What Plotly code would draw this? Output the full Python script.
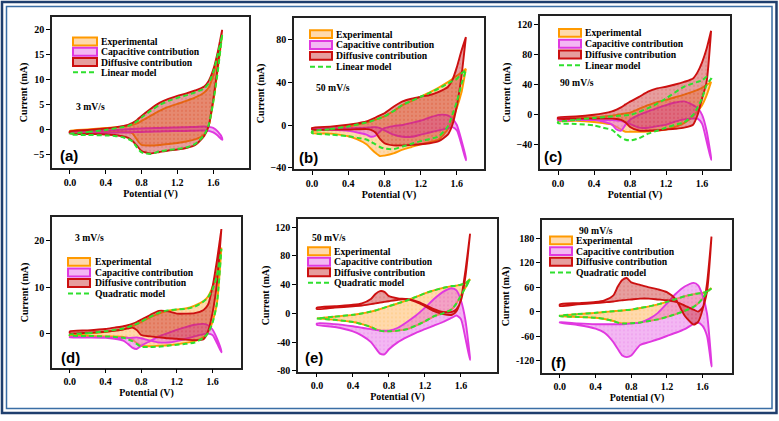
import plotly.graph_objects as go

W, H = 779, 421

# Potential grid (V) shared by every branch
E = [0.0, 0.2, 0.4, 0.5, 0.6, 0.65, 0.7, 0.75, 0.8, 0.9, 1.0, 1.1, 1.2, 1.3, 1.4, 1.5, 1.55, 1.6, 1.65, 1.7]

# ---------- (a) 3 mV/s, linear model ----------
a_exp_fwd = [-0.2, 0.1, 0.4, 0.5, 0.7, 0.8, 1.0, 1.3, 1.8, 2.8, 3.8, 4.6, 5.2, 5.8, 6.5, 7.5, 8.5, 10.8, 14.5, 19.0]
a_exp_rev = [-0.5, -0.4, -0.3, -0.3, -0.3, -0.4, -0.7, -2.0, -3.0, -3.1, -3.0, -2.8, -2.6, -2.3, -1.9, -0.9, 0.8, 5.5, 12.0, 19.0]
a_cap_fwd = [-0.4, -0.3, -0.1, 0.0, 0.1, 0.15, 0.2, 0.25, 0.3, 0.35, 0.4, 0.45, 0.5, 0.55, 0.6, 0.7, 0.6, 0.4, -0.3, -1.6]
a_cap_rev = [-0.7, -0.65, -0.6, -0.55, -0.5, -0.5, -0.45, -0.4, -0.4, -0.35, -0.3, -0.25, -0.2, -0.2, -0.15, -0.1, -0.2, -0.5, -1.1, -2.0]
a_dif_fwd = [-0.3, 0.0, 0.3, 0.5, 0.8, 1.0, 1.4, 2.0, 2.8, 4.2, 5.4, 6.2, 6.8, 7.3, 7.9, 8.7, 9.8, 12.0, 15.5, 20.0]
a_dif_rev = [-0.7, -0.8, -0.9, -1.0, -1.3, -1.6, -2.2, -3.2, -4.2, -4.7, -4.4, -4.1, -3.9, -3.6, -3.0, -1.2, 0.8, 6.0, 12.5, 20.0]
a_mod_fwd = [-0.8, -0.4, 0.0, 0.3, 0.6, 0.8, 1.2, 1.7, 2.5, 3.8, 5.0, 5.8, 6.4, 6.9, 7.5, 8.3, 9.3, 11.5, 15.0, 19.0]
a_mod_rev = [-0.9, -1.0, -1.1, -1.2, -1.5, -1.8, -2.3, -3.5, -4.5, -4.8, -4.3, -4.0, -3.8, -3.5, -2.8, -1.0, 1.0, 5.5, 11.5, 19.0]

# ---------- (b) 50 mV/s, linear model ----------
b_exp_fwd = [-6.0, -3.8, -1.3, 0.5, 2.4, 3.5, 5.0, 6.5, 8.0, 13.0, 18.5, 22.5, 26.5, 30.5, 35.0, 40.0, 43.0, 46.0, 49.0, 52.5]
b_exp_rev = [-7.5, -8.0, -10.5, -13.5, -18.0, -22.0, -26.0, -29.0, -28.5, -26.5, -23.0, -20.5, -18.0, -16.0, -13.5, -4.0, 5.0, 16.0, 30.0, 52.5]
b_cap_fwd = [-4.0, -4.5, -5.5, -7.0, -9.0, -11.0, -10.0, -6.0, -3.0, -1.0, 0.0, 2.0, 4.0, 7.0, 9.5, 9.0, 6.0, 0.0, -14.0, -31.0]
b_cap_rev = [-3.0, -3.0, -3.0, -2.8, -2.5, -2.2, -2.0, -3.0, -5.0, -9.0, -11.0, -11.0, -9.0, -7.0, -5.0, -3.0, -2.0, -5.0, -18.0, -33.0]
b_dif_fwd = [-2.8, -1.5, 0.3, 1.5, 3.3, 5.0, 7.0, 9.0, 11.0, 17.0, 22.0, 24.5, 26.4, 28.0, 31.0, 35.5, 42.0, 54.0, 69.0, 82.0]
b_dif_rev = [-4.3, -4.3, -4.3, -4.0, -3.8, -4.5, -7.0, -13.0, -17.0, -19.0, -19.0, -18.5, -18.0, -17.0, -15.0, -9.0, 0.0, 18.0, 45.0, 82.0]
b_mod_fwd = [-6.0, -3.8, -1.3, 0.5, 2.4, 3.5, 5.0, 6.5, 8.0, 13.0, 18.8, 22.5, 26.4, 30.0, 34.0, 38.7, 41.0, 43.0, 48.0, 51.0]
b_mod_rev = [-7.5, -9.0, -10.5, -12.0, -13.5, -15.5, -18.0, -20.5, -22.0, -22.5, -20.0, -17.5, -15.0, -13.0, -10.5, -1.3, 9.5, 21.8, 38.0, 51.0]

# ---------- (c) 90 mV/s, linear model ----------
c_exp_fwd = [-5.0, -4.0, -3.0, -2.0, -1.0, 0.0, 1.0, 2.0, 3.0, 8.0, 13.0, 17.0, 20.0, 23.5, 27.0, 31.0, 33.5, 36.0, 40.0, 44.0]
c_exp_rev = [-8.0, -8.0, -9.5, -11.0, -13.0, -16.0, -19.5, -22.5, -22.5, -22.5, -22.0, -21.0, -19.5, -16.0, -11.0, -2.0, 5.0, 13.0, 26.0, 44.0]
c_cap_fwd = [-4.0, -5.0, -6.5, -9.0, -13.0, -19.5, -21.0, -13.0, -6.5, 0.0, 4.6, 9.0, 13.0, 16.5, 18.0, 13.0, 9.0, 0.0, -21.0, -57.0]
c_cap_rev = [-7.0, -7.0, -7.0, -7.0, -7.0, -7.5, -8.0, -10.0, -12.0, -17.0, -17.0, -15.0, -13.0, -9.0, -6.0, -5.0, -5.0, -12.0, -35.0, -60.0]
c_dif_fwd = [-3.3, -2.0, 0.3, 2.0, 4.6, 7.0, 10.0, 14.0, 17.8, 24.0, 31.0, 35.3, 37.5, 40.5, 44.0, 48.5, 57.0, 70.0, 88.0, 112.0]
c_dif_rev = [-5.0, -5.0, -5.0, -5.0, -5.0, -5.5, -6.5, -10.0, -16.0, -21.0, -21.0, -20.5, -19.5, -18.5, -17.0, -13.0, 0.0, 22.0, 44.0, 112.0]
c_mod_fwd = [-9.5, -6.5, -4.0, -3.0, -2.0, -1.5, -1.0, -0.5, 0.0, 4.0, 9.0, 15.0, 22.0, 30.0, 37.5, 42.0, 44.0, 46.0, 50.7, 48.0]
c_mod_rev = [-11.0, -12.0, -14.0, -17.0, -20.0, -25.0, -30.0, -33.0, -34.0, -31.0, -25.0, -21.0, -17.0, -13.0, -10.0, 0.0, 10.0, 22.0, 40.0, 48.0]

# ---------- (d) 3 mV/s, quadratic model ----------
d_exp_fwd = [-0.3, 0.0, 0.4, 0.7, 1.0, 1.3, 1.6, 2.0, 2.5, 3.5, 4.3, 4.9, 5.2, 5.4, 6.0, 7.0, 8.0, 10.0, 13.0, 18.5]
d_exp_rev = [-0.5, -0.5, -0.6, -0.6, -0.7, -0.9, -1.3, -2.0, -2.6, -2.7, -2.6, -2.5, -2.3, -2.0, -1.6, -0.8, 0.2, 2.5, 6.5, 18.5]
d_cap_fwd = [-0.7, -0.8, -0.9, -1.1, -1.5, -2.2, -3.0, -3.3, -2.6, -1.6, -0.6, 0.1, 0.8, 1.4, 1.9, 2.1, 1.8, 0.9, -1.0, -3.8]
d_cap_rev = [-0.8, -0.8, -0.8, -0.9, -0.9, -0.9, -0.9, -0.8, -1.0, -1.5, -1.9, -1.9, -1.6, -1.1, -0.6, -0.1, 0.0, -0.3, -2.0, -4.0]
d_dif_fwd = [0.5, 0.7, 1.0, 1.3, 1.6, 1.8, 2.1, 2.5, 3.0, 4.0, 4.9, 4.8, 4.3, 4.3, 4.4, 5.1, 6.2, 10.0, 15.7, 22.5]
d_dif_rev = [0.1, 0.2, 0.4, 0.6, 0.9, 1.1, 1.3, 0.8, -0.3, -0.6, -0.8, -1.0, -1.1, -1.3, -1.4, -1.2, 0.5, 4.4, 10.8, 22.5]
d_mod_fwd = [-0.2, 0.1, 0.5, 0.8, 1.1, 1.4, 1.7, 2.1, 2.6, 3.6, 4.5, 5.0, 5.2, 5.3, 5.8, 6.9, 7.8, 9.5, 12.5, 18.2]
d_mod_rev = [-0.4, -0.5, -0.6, -0.7, -0.9, -1.2, -1.6, -2.2, -2.8, -2.9, -2.8, -2.6, -2.4, -2.2, -1.9, -0.9, 0.1, 2.3, 6.5, 18.2]

# ---------- (e) 50 mV/s, quadratic model ----------
e_exp_fwd = [-7.0, -4.5, -2.0, 0.0, 2.5, 4.0, 6.0, 8.0, 10.0, 14.0, 18.0, 23.0, 28.0, 32.0, 35.5, 38.0, 38.6, 40.0, 42.0, 48.0]
e_exp_rev = [-7.0, -9.0, -12.0, -15.0, -19.0, -22.0, -24.0, -25.0, -25.0, -24.0, -22.0, -17.0, -11.0, -4.0, 0.0, 6.0, 14.0, 25.0, 36.0, 48.0]
e_cap_fwd = [-14.0, -15.0, -18.0, -20.0, -22.0, -23.0, -24.0, -24.0, -24.0, -20.0, -12.0, -3.0, 8.0, 20.0, 30.0, 35.0, 32.0, 18.0, -10.0, -62.0]
e_cap_rev = [-16.0, -19.0, -25.0, -31.0, -40.0, -48.0, -56.0, -57.0, -50.0, -40.0, -33.0, -27.0, -22.0, -17.0, -12.0, -6.0, -3.0, -8.0, -35.0, -65.0]
e_dif_fwd = [8.0, 10.0, 12.0, 14.0, 20.0, 27.0, 31.0, 30.0, 24.0, 21.0, 20.0, 16.0, 10.0, 3.0, -1.0, -2.0, 3.0, 20.0, 60.0, 110.0]
e_dif_rev = [6.0, 8.0, 10.0, 11.0, 13.0, 14.0, 15.0, 16.0, 17.0, 19.0, 20.0, 17.0, 12.0, 6.0, 2.0, 2.0, 6.0, 18.0, 52.0, 110.0]
e_mod_fwd = [-7.0, -4.5, -2.0, 0.0, 2.5, 4.0, 6.0, 8.0, 10.0, 14.0, 18.0, 23.0, 28.0, 32.0, 35.5, 38.0, 38.6, 40.0, 42.0, 47.0]
e_mod_rev = [-7.0, -9.0, -12.0, -15.0, -19.0, -22.0, -24.0, -25.0, -25.0, -24.0, -22.0, -17.0, -11.0, -4.0, 0.0, 6.0, 14.0, 25.0, 36.0, 47.0]

# ---------- (f) 90 mV/s, quadratic model ----------
f_exp_fwd = [-10.0, -6.0, -3.0, -1.0, 1.0, 2.0, 3.0, 4.0, 5.0, 9.0, 13.0, 18.0, 24.0, 31.0, 38.0, 43.0, 45.0, 46.0, 50.0, 58.0]
f_exp_rev = [-11.0, -13.0, -15.0, -18.0, -23.0, -27.0, -29.0, -29.0, -28.5, -27.0, -23.0, -19.0, -13.0, -6.0, 2.0, 12.0, 20.0, 32.0, 48.0, 58.0]
f_cap_fwd = [-26.0, -29.0, -31.0, -31.0, -31.0, -31.0, -31.0, -30.0, -29.0, -27.0, -18.0, -3.0, 20.0, 44.0, 62.0, 71.0, 65.0, 40.0, -5.0, -130.0]
f_cap_rev = [-27.0, -33.0, -42.0, -52.0, -75.0, -92.0, -108.0, -112.0, -108.0, -82.0, -75.0, -68.0, -60.0, -52.0, -43.0, -30.0, -27.0, -35.0, -60.0, -135.0]
f_dif_fwd = [18.0, 21.0, 24.0, 28.0, 40.0, 62.0, 78.0, 83.0, 72.0, 66.0, 60.0, 55.0, 48.0, 30.0, -10.0, -32.0, -25.0, 5.0, 70.0, 185.0]
f_dif_rev = [14.0, 18.0, 21.0, 23.0, 25.0, 27.0, 28.0, 29.0, 30.0, 32.0, 32.0, 30.0, 28.0, 24.0, 15.0, 5.0, 0.0, 10.0, 50.0, 185.0]
f_mod_fwd = [-10.0, -6.0, -3.0, -1.0, 1.0, 2.0, 3.0, 4.0, 5.0, 9.0, 13.0, 18.0, 24.0, 31.0, 38.0, 43.0, 45.0, 46.0, 50.0, 57.0]
f_mod_rev = [-11.0, -13.0, -15.0, -18.0, -23.0, -27.0, -29.0, -29.0, -28.5, -27.0, -23.0, -19.0, -13.0, -6.0, 2.0, 12.0, 20.0, 32.0, 48.0, 57.0]

# ---------- ticks / labels ----------
x_tickvals = [0.0, 0.4, 0.8, 1.2, 1.6]
x_ticktext = ["0.0", "0.4", "0.8", "1.2", "1.6"]
a_yticks = [-5, 0, 5, 10, 15, 20]
a_yticktext = ["\u22125", "0", "5", "10", "15", "20"]
b_yticks = [-40, 0, 40, 80]
b_yticktext = ["\u221240", "0", "40", "80"]
c_yticks = [-40, 0, 40, 80, 120]
c_yticktext = ["\u221240", "0", "40", "80", "120"]
d_yticks = [0, 10, 20]
d_yticktext = ["0", "10", "20"]
e_yticks = [-80, -40, 0, 40, 80, 120]
e_yticktext = ["-80", "-40", "0", "40", "80", "120"]
f_yticks = [-120, -60, 0, 60, 120, 180]
f_yticktext = ["-120", "-60", "0", "60", "120", "180"]

series_names = ["Experimental", "Capacitive contribution", "Diffusive contribution"]
rates = ["3 mV/s", "50 mV/s", "90 mV/s", "3 mV/s", "50 mV/s", "90 mV/s"]
letters = ["(a)", "(b)", "(c)", "(d)", "(e)", "(f)"]
models = ["Linear model", "Linear model", "Linear model", "Quadratic model", "Quadratic model", "Quadratic model"]

# ---------- styling ----------
SERIF = "Liberation Serif, Times New Roman, serif"
EXP_LINE, EXP_FILL = "#FF9A00", "rgba(255,180,90,0.50)"
CAP_LINE, CAP_FILL = "#E038E0", "rgba(228,95,228,0.45)"
DIF_LINE, DIF_FILL = "#CC1010", "rgba(200,40,40,0.45)"
MOD_LINE = "#2EE02E"

panels = [
    dict(data=[(a_exp_fwd, a_exp_rev), (a_cap_fwd, a_cap_rev), (a_dif_fwd, a_dif_rev), (a_mod_fwd, a_mod_rev)],
         xr=[-0.2, 2.0], yr=[-7.6, 22.6], yt=a_yticks, ytt=a_yticktext, box=(52, 17, 249, 170),
         leg=(73, 97, 99, 42, 10.4), rpos=(74, 108), lpos=(58, 157)),
    dict(data=[(b_exp_fwd, b_exp_rev), (b_cap_fwd, b_cap_rev), (b_dif_fwd, b_dif_rev), (b_mod_fwd, b_mod_rev)],
         xr=[-0.2, 1.9], yr=[-41, 100], yt=b_yticks, ytt=b_yticktext, box=(294, 18, 484, 171),
         leg=(310, 332, 334, 34.5, 11.0), rpos=(314, 89), lpos=(297, 159)),
    dict(data=[(c_exp_fwd, c_exp_rev), (c_cap_fwd, c_cap_rev), (c_dif_fwd, c_dif_rev), (c_mod_fwd, c_mod_rev)],
         xr=[-0.2, 1.91], yr=[-72, 132], yt=c_yticks, ytt=c_yticktext, box=(540, 16, 730, 171),
         leg=(559, 581, 583, 33.3, 10.9), rpos=(558, 83), lpos=(542, 158)),
    dict(data=[(d_exp_fwd, d_exp_rev), (d_cap_fwd, d_cap_rev), (d_dif_fwd, d_dif_rev), (d_mod_fwd, d_mod_rev)],
         xr=[-0.2, 1.92], yr=[-7.3, 25], yt=d_yticks, ytt=d_yticktext, box=(52, 220, 241, 372),
         leg=(68, 90, 92.5, 265, 10.7), rpos=(73, 240), lpos=(59, 362)),
    dict(data=[(e_exp_fwd, e_exp_rev), (e_cap_fwd, e_cap_rev), (e_dif_fwd, e_dif_rev), (e_mod_fwd, e_mod_rev)],
         xr=[-0.21, 2.0], yr=[-81, 131], yt=e_yticks, ytt=e_yticktext, box=(298, 222, 497, 376),
         leg=(308, 330, 332, 254.3, 10.6), rpos=(310, 240), lpos=(303, 362)),
    dict(data=[(f_exp_fwd, f_exp_rev), (f_cap_fwd, f_cap_rev), (f_dif_fwd, f_dif_rev), (f_mod_fwd, f_mod_rev)],
         xr=[-0.2, 1.93], yr=[-150, 225], yt=f_yticks, ytt=f_yticktext, box=(542, 223, 732, 377),
         leg=(550, 572, 574, 243.3, 10.8), rpos=(577, 233), lpos=(549, 367)),
]


def px(x):
    return x / W


def py(y):
    return 1 - y / H


def loop(fwd, rev):
    xs = list(E) + list(E)[::-1] + [E[0]]
    ys = list(fwd) + list(rev)[::-1] + [fwd[0]]
    return xs, ys


fig = go.Figure()
shapes, annotations = [], []
tickfont = dict(family=SERIF, size=10, color="black", weight="bold")
titlefont = dict(family=SERIF, size=10, color="black", weight="bold")
legfont = dict(family=SERIF, size=9.7, color="black", weight="bold")

for i, p in enumerate(panels, start=1):
    xa, ya = f"x{i}", f"y{i}"
    styles = [(EXP_LINE, EXP_FILL), (CAP_LINE, CAP_FILL), (DIF_LINE, DIF_FILL)]
    for k in range(3):
        fwd, rev = p["data"][k]
        xs, ys = loop(fwd, rev)
        lc, fc = styles[k]
        fig.add_trace(go.Scatter(
            x=xs, y=ys, xaxis=xa, yaxis=ya, mode="lines", name=series_names[k],
            line=dict(color=lc, width=1.9, shape="spline", smoothing=0.6),
            fill="toself", fillcolor=fc,
            fillpattern=dict(shape=".", fgcolor=lc, fgopacity=0.3, bgcolor=fc, size=4, solidity=0.12),
            showlegend=False, hoverinfo="skip"))
    fwd, rev = p["data"][3]
    xs, ys = loop(fwd, rev)
    fig.add_trace(go.Scatter(
        x=xs, y=ys, xaxis=xa, yaxis=ya, mode="lines", name=models[i - 1],
        line=dict(color=MOD_LINE, width=2, dash="5px,3px", shape="spline", smoothing=0.6),
        showlegend=False, hoverinfo="skip"))

    x0, y0, x1, y1 = p["box"]
    sfx = "" if i == 1 else str(i)
    fig.layout["xaxis" + sfx] = dict(
        domain=[px(x0), px(x1)], range=p["xr"], anchor=ya, tickvals=x_tickvals, ticktext=x_ticktext,
        ticks="outside", ticklen=4, tickwidth=1, tickcolor="black", showline=True, linewidth=1.5,
        linecolor="#222", mirror=True, showgrid=False, zeroline=False, tickfont=tickfont,
        title=dict(text="Potential (V)", font=titlefont, standoff=3))
    fig.layout["yaxis" + sfx] = dict(
        domain=[py(y1), py(y0)], range=p["yr"], anchor=xa, tickvals=p["yt"], ticktext=p["ytt"],
        ticks="outside", ticklen=4, tickwidth=1, tickcolor="black", showline=True, linewidth=1.5,
        linecolor="#222", mirror=True, showgrid=False, zeroline=False, tickfont=tickfont,
        title=dict(text="Current (mA)", font=titlefont, standoff=4))

    # in-plot legend
    sx0, sx1, tx, r0, step = p["leg"]
    for k in range(3):
        lc, fc = styles[k]
        ry = r0 + k * step
        shapes.append(dict(type="rect", xref="paper", yref="paper", x0=px(sx0), x1=px(sx1),
                           y0=py(ry + 4), y1=py(ry - 4), line=dict(color=lc, width=2), fillcolor=fc))
        annotations.append(dict(text=series_names[k], xref="paper", yref="paper", x=px(tx), y=py(ry),
                                xanchor="left", yanchor="middle", showarrow=False, font=legfont))
    ry = r0 + 3 * step
    shapes.append(dict(type="line", xref="paper", yref="paper", x0=px(sx0), x1=px(sx1), y0=py(ry), y1=py(ry),
                       line=dict(color=MOD_LINE, width=2, dash="5px,3px")))
    annotations.append(dict(text=models[i - 1], xref="paper", yref="paper", x=px(tx), y=py(ry),
                            xanchor="left", yanchor="middle", showarrow=False, font=legfont))
    # scan rate label
    annotations.append(dict(text=rates[i - 1], xref="paper", yref="paper", x=px(p["rpos"][0]), y=py(p["rpos"][1]),
                            xanchor="left", yanchor="middle", showarrow=False, font=legfont))
    # panel letter
    annotations.append(dict(text=letters[i - 1], xref="paper", yref="paper", x=px(p["lpos"][0]), y=py(p["lpos"][1]),
                            xanchor="left", yanchor="middle", showarrow=False,
                            font=dict(family="Liberation Sans, Arial, sans-serif", size=15, color="black", weight="bold")))

# decorative double blue frame
shapes.append(dict(type="rect", xref="paper", yref="paper", x0=px(2), x1=px(776.5), y0=py(418), y1=py(2),
                   line=dict(color="#1F3F6E", width=2.5), fillcolor="rgba(0,0,0,0)", layer="below"))
shapes.append(dict(type="rect", xref="paper", yref="paper", x0=px(6.5), x1=px(772), y0=py(413.5), y1=py(6.5),
                   line=dict(color="#3A6EA5", width=1.5), fillcolor="rgba(0,0,0,0)", layer="below"))

fig.update_layout(
    width=W, height=H, margin=dict(l=0, r=0, t=0, b=0),
    paper_bgcolor="white", plot_bgcolor="white",
    shapes=shapes, annotations=annotations, showlegend=False,
)

# remove the browser's default 8px page margin so the figure sits at the window origin
fig.write_html("out.html", config={"displayModeBar": False},
               post_script="document.body.style.margin='0';document.body.style.overflow='hidden';")
